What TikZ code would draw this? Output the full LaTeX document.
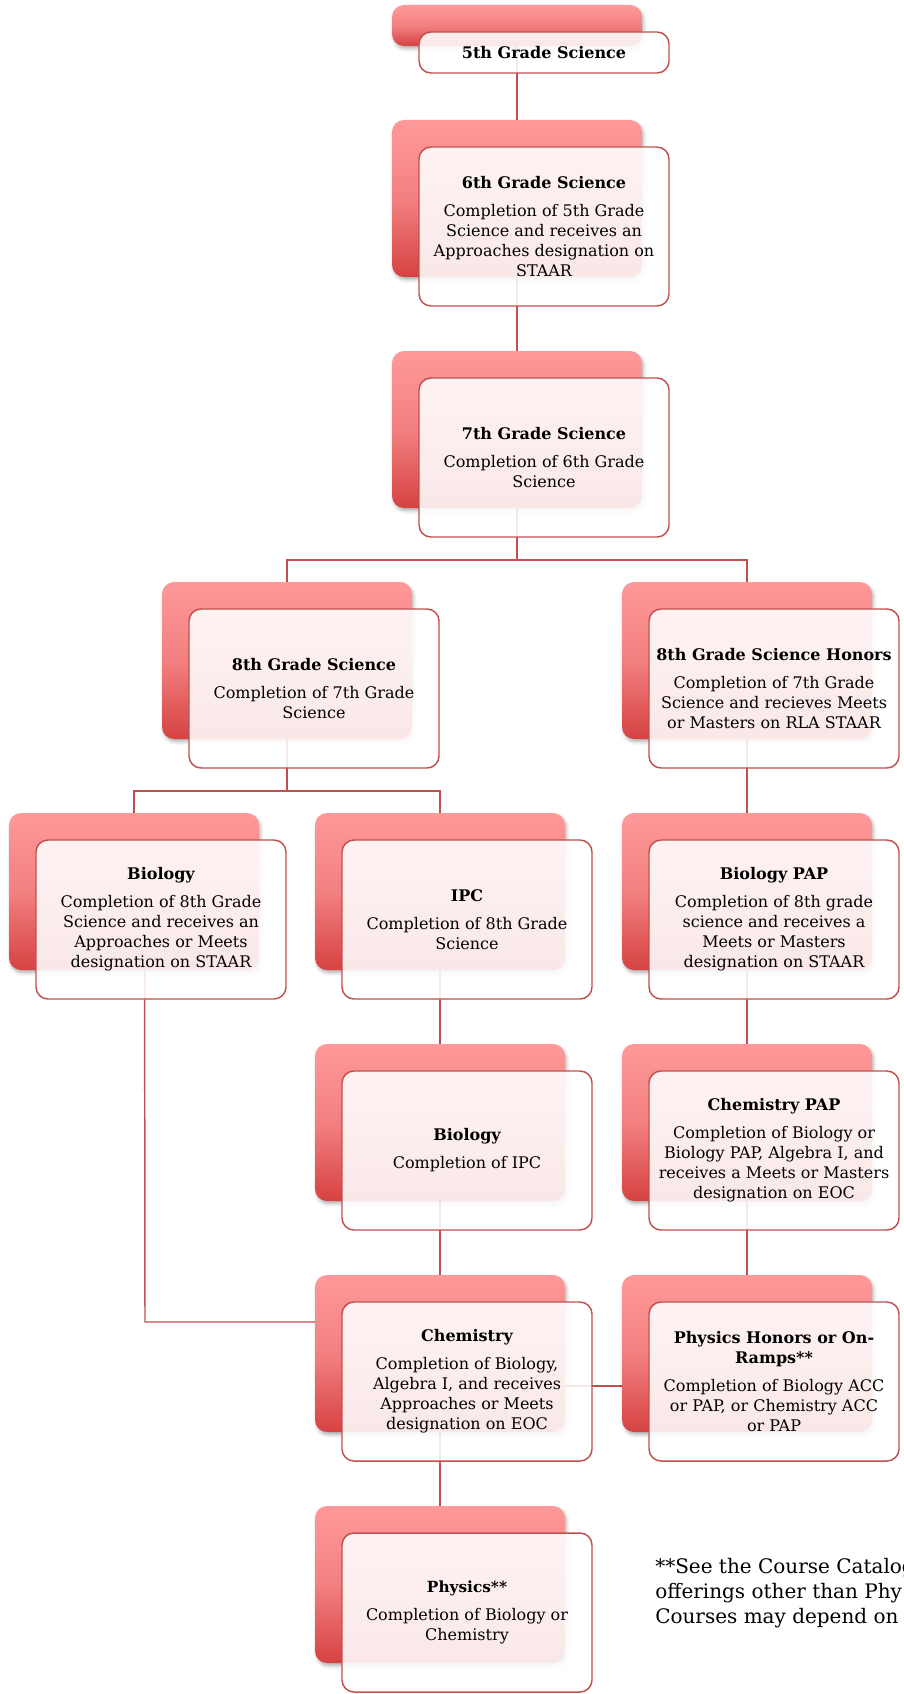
\documentclass[tikz,border=0pt]{standalone}
\usepackage{fontspec}
\setmainfont{DejaVu Serif}
\usetikzlibrary{shadows.blur,calc}
\pgfdeclarelayer{bg}
\pgfsetlayers{bg,main}
\definecolor{pinkT}{RGB}{255,153,153}
\definecolor{pinkM}{RGB}{243,128,128}
\definecolor{pinkB}{RGB}{214,66,66}
\definecolor{edgec}{RGB}{192,80,77}
\tikzset{
  pinkbox/.style={rounded corners=9pt, top color=pinkT, bottom color=pinkB, middle color=pinkM,
    draw=none, inner sep=0pt, minimum width=187.5pt,
    blur shadow={shadow xshift=1.2pt, shadow yshift=-2.2pt, shadow blur radius=2.5pt, shadow opacity=30}},
  whitebox/.style={rounded corners=9pt, draw=edgec, line width=1.1pt, fill=white, fill opacity=0.88,
    text opacity=1, align=center, inner sep=0pt, minimum width=187.5pt,
    font=\fontsize{12}{15}\selectfont},
  link/.style={draw=edgec, line width=1.1pt},
  notetext/.style={anchor=north west, align=left, inner sep=0pt, font=\fontsize{15}{18.75}\selectfont}
}
% #1 name, #2 x, #3 y, #4 pink height, #5 white height, #6 text
\newcommand{\card}[6]{%
  \node[pinkbox, minimum height=#4*0.75pt] (#1p) at ({#2+125},{#3+#4/2}) {};
  \node[whitebox, minimum height=#5*0.75pt] (#1) at ({#2+152},{#3+27+#5/2}) {#6};
}
\newcommand{\ttl}[1]{{\bfseries #1}\\[6pt]}
\begin{document}
\begin{tikzpicture}[x=0.75pt, y=-0.75pt]
\useasboundingbox (0,0) rectangle (903,1694);
\clip (0,0) rectangle (903,1694);
\card{c5}{392}{5}{41}{41}{{\bfseries 5th Grade Science}}
\card{c6}{392}{120}{157}{159}{\ttl{6th Grade Science}Completion of 5th Grade\\Science and receives an\\Approaches designation on\\STAAR}
\card{c7}{392}{351}{157}{159}{\ttl{7th Grade Science}Completion of 6th Grade\\Science}
\card{c8}{162}{582}{157}{159}{\ttl{8th Grade Science}Completion of 7th Grade\\Science}
\card{c8h}{622}{582}{157}{159}{\ttl{8th Grade Science Honors}Completion of 7th Grade\\Science and recieves Meets\\or Masters on RLA STAAR}
\card{bio}{9}{813}{157}{159}{\ttl{Biology}Completion of 8th Grade\\Science and receives an\\Approaches or Meets\\designation on STAAR}
\card{ipc}{315}{813}{157}{159}{\ttl{IPC}Completion of 8th Grade\\Science}
\card{biopap}{622}{813}{157}{159}{\ttl{Biology PAP}Completion of 8th grade\\science and receives a\\Meets or Masters\\designation on STAAR}
\card{biob}{315}{1044}{157}{159}{\ttl{Biology}Completion of IPC}
\card{chempap}{622}{1044}{157}{159}{\ttl{Chemistry PAP}Completion of Biology or\\Biology PAP, Algebra I, and\\receives a Meets or Masters\\designation on EOC}
\card{chem}{315}{1275}{157}{159}{\ttl{Chemistry}Completion of Biology,\\Algebra I, and receives\\Approaches or Meets\\designation on EOC}
\card{phyh}{622}{1275}{157}{159}{{\bfseries Physics Honors or On-}\\{\bfseries Ramps**}\\[6pt]Completion of Biology ACC\\or PAP, or Chemistry ACC\\or PAP}
\card{phys}{315}{1506}{157}{159}{\fontsize{11.5}{14.5}\selectfont\ttl{Physics**}Completion of Biology or\\Chemistry}
\node[notetext] (note) at (655,1558) {**See the Course Catalog\\offerings other than Phy\\Courses may depend on};
\coordinate (j7) at (517,560);
\coordinate (j8) at (287,791);
\coordinate (jb) at (145,1322);
\coordinate (jc) at (600,1386);
\begin{pgfonlayer}{bg}
\draw[link] (c5p.center) -- (c6p.center) -- (c7p.center) -- (j7);
\draw[link] (c8p.center) |- (j7) -| (c8hp.center);
\draw[link] (c8p.center) -- (j8);
\draw[link] (biop.center) |- (j8) -| (ipcp.center);
\draw[link] (c8hp.center) -- (biopapp.center) -- (chempapp.center) -- (phyhp.center);
\draw[link] (ipcp.center) -- (biobp.center) -- (chemp.center) -- (physp.center);
\draw[link] ($(biop.center)+(10.5,0)$) -- (jb) -- (jb -| chemp.center);
\draw[link] (jc -| chemp.center) -- (jc -| phyhp.center);
\end{pgfonlayer}
\end{tikzpicture}
\end{document}
